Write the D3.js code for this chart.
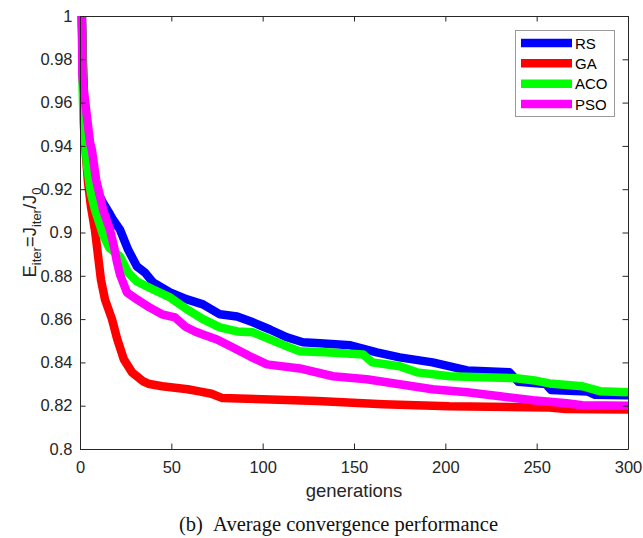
<!DOCTYPE html>
<html>
<head>
<meta charset="utf-8">
<script src="https://cdn.jsdelivr.net/npm/d3@7/dist/d3.min.js"></script>
<style>
  html, body { margin: 0; padding: 0; background: #fff; }
  svg { display: block; }
</style>
</head>
<body>
<svg id="chart" width="643" height="538"></svg>
<script>
// ---- data ----
const seriesNames = ["RS", "GA", "ACO", "PSO"];
const seriesColors = ["#0000ff", "#ff0000", "#00ff00", "#ff00ff"];

const rsGen = [1, 2, 4, 7, 10, 12.6, 15.9, 18, 21.9, 26.3, 31.2, 35.6, 40, 49.3, 58.6, 67.3, 76.6, 86, 94.7, 104, 113.3, 122, 131.4, 148, 162.5, 175, 193, 212, 235, 240, 255, 258, 278, 282, 300];
const rsVal = [1.0, 0.965, 0.945, 0.928, 0.918, 0.9138, 0.9092, 0.906, 0.9013, 0.8921, 0.8843, 0.8815, 0.8769, 0.8723, 0.8691, 0.8668, 0.8622, 0.8612, 0.8585, 0.8552, 0.8516, 0.8493, 0.8488, 0.8479, 0.8446, 0.8423, 0.840, 0.8363, 0.8355, 0.831, 0.8300, 0.8272, 0.8265, 0.8250, 0.8248];

const gaGen = [1, 2, 2.7, 4.4, 6, 8.2, 11.5, 13.7, 17.5, 20.3, 24, 28.5, 34.5, 38, 45, 59, 66, 72, 78, 100, 130, 166, 202, 257, 266, 300];
const gaVal = [1.0, 0.957, 0.9415, 0.923, 0.912, 0.901, 0.878, 0.869, 0.860, 0.851, 0.8414, 0.8354, 0.8313, 0.830, 0.829, 0.8276, 0.8265, 0.8255, 0.8235, 0.8230, 0.8222, 0.8207, 0.8197, 0.8192, 0.8185, 0.8182];

const acoGen = [1, 1.5, 2, 4, 6, 8.2, 12.6, 16, 21.9, 26.3, 31.2, 40, 49.3, 58.6, 67.3, 76.6, 86, 94.7, 104, 113.3, 120.4, 137, 155, 160, 175, 184.5, 202.5, 220.6, 239, 250, 257, 275, 284.6, 300];
const acoVal = [1.0, 0.965, 0.95, 0.93, 0.918, 0.9106, 0.899, 0.893, 0.8889, 0.8815, 0.8774, 0.8737, 0.870, 0.8645, 0.860, 0.8562, 0.8543, 0.8539, 0.8506, 0.8474, 0.8451, 0.8446, 0.8437, 0.840, 0.8382, 0.8354, 0.8336, 0.8331, 0.8327, 0.8315, 0.8303, 0.829, 0.8267, 0.8262];

const psoGen = [1, 1.3, 2.7, 5.5, 6.5, 8.8, 11, 12.6, 16.4, 18.6, 20.3, 21.9, 25.7, 31.2, 37.2, 40, 44.9, 52, 57.5, 63, 67.3, 75, 83.7, 93, 102.4, 120.4, 138.5, 157, 175, 193, 212, 230, 248, 266.5, 275, 300];
const psoVal = [1.0, 0.972, 0.9613, 0.9415, 0.9382, 0.9244, 0.9166, 0.9106, 0.9013, 0.8935, 0.8861, 0.8806, 0.8723, 0.8691, 0.8658, 0.8645, 0.8622, 0.8608, 0.8566, 0.8543, 0.8529, 0.8506, 0.8469, 0.8428, 0.8391, 0.8372, 0.8336, 0.8322, 0.8299, 0.8276, 0.8262, 0.8244, 0.8225, 0.8211, 0.8202, 0.8200];

const xTicks = [0, 50, 100, 150, 200, 250, 300];
const yTicks = [0.8, 0.82, 0.84, 0.86, 0.88, 0.9, 0.92, 0.94, 0.96, 0.98, 1];
const xLabel = "generations";
const caption = "(b)\u00a0\u00a0Average convergence performance";

// ---- layout ----
const L = 80, T = 16, R = 628, B = 449;
const axisColor = "#262626";
const svg = d3.select("#chart");

const x = d3.scaleLinear().domain([0, 300]).range([L, R]);
const y = d3.scaleLinear().domain([0.8, 1]).range([B, T]);

svg.append("rect").attr("x", L).attr("y", T).attr("width", R - L).attr("height", B - T).attr("fill", "#fff");

svg.append("clipPath").attr("id", "clip")
  .append("rect").attr("x", L - 10).attr("y", T).attr("width", R - L + 20).attr("height", B - T);

const series = [
  { name: seriesNames[0], color: seriesColors[0], gen: rsGen, val: rsVal },
  { name: seriesNames[1], color: seriesColors[1], gen: gaGen, val: gaVal },
  { name: seriesNames[2], color: seriesColors[2], gen: acoGen, val: acoVal },
  { name: seriesNames[3], color: seriesColors[3], gen: psoGen, val: psoVal }
];

const line = d3.line().x(d => x(d[0])).y(d => y(d[1]));
const g = svg.append("g").attr("clip-path", "url(#clip)");
series.forEach(s => {
  const pts = s.gen.map((gv, i) => [gv, s.val[i]]);
  g.append("path").datum(pts)
    .attr("d", line)
    .attr("fill", "none")
    .attr("stroke", s.color)
    .attr("stroke-width", 8.5)
    .attr("stroke-linejoin", "round")
    .attr("stroke-linecap", "butt");
});

// ---- axes (MATLAB style, ticks inward, box) ----
const tickLen = 5.5;
const fontTick = "16.5px 'Liberation Sans', Arial, sans-serif";

const xAxisB = d3.axisBottom(x).tickValues(xTicks).tickSizeInner(-tickLen).tickSizeOuter(0).tickPadding(12).tickFormat(d3.format("d"));
const xAxisT = d3.axisTop(x).tickValues(xTicks).tickSizeInner(-tickLen).tickSizeOuter(0).tickFormat("");
const yAxisL = d3.axisLeft(y).tickValues(yTicks).tickSizeInner(-tickLen).tickSizeOuter(0).tickPadding(7.5).tickFormat(d => String(+d.toFixed(2)));
const yAxisR = d3.axisRight(y).tickValues(yTicks).tickSizeInner(-tickLen).tickSizeOuter(0).tickFormat("");

function styleAxis(sel) {
  sel.select(".domain").attr("stroke", axisColor).attr("stroke-width", 1);
  sel.selectAll(".tick line").attr("stroke", axisColor).attr("stroke-width", 1);
  sel.selectAll(".tick text").attr("fill", axisColor).style("font", fontTick);
}
svg.append("g").attr("transform", `translate(0,${B})`).call(xAxisB).call(styleAxis);
svg.append("g").attr("transform", `translate(0,${T})`).call(xAxisT).call(styleAxis);
svg.append("g").attr("transform", `translate(${L},0)`).call(yAxisL).call(styleAxis);
svg.append("g").attr("transform", `translate(${R},0)`).call(yAxisR).call(styleAxis);

// ---- labels ----
svg.append("text")
  .attr("x", (L + R) / 2).attr("y", 497)
  .attr("text-anchor", "middle")
  .attr("fill", axisColor)
  .style("font", "18.5px 'Liberation Sans', Arial, sans-serif")
  .text(xLabel);

const yl = svg.append("text")
  .attr("transform", `translate(36,${(T + B) / 2}) rotate(-90)`)
  .attr("text-anchor", "middle")
  .attr("fill", axisColor)
  .style("font", "18.5px 'Liberation Sans', Arial, sans-serif");
yl.append("tspan").text("E");
yl.append("tspan").attr("dy", 4.5).style("font-size", "13px").text("iter");
yl.append("tspan").attr("dy", -4.5).text("=J");
yl.append("tspan").attr("dy", 4.5).style("font-size", "13px").text("iter");
yl.append("tspan").attr("dy", -4.5).text("/J");
yl.append("tspan").attr("dy", 4.5).style("font-size", "13px").text("0");

svg.append("text")
  .attr("x", 338.5).attr("y", 531)
  .attr("text-anchor", "middle")
  .attr("fill", "#111")
  .style("font", "20.5px 'Liberation Serif', 'Times New Roman', serif")
  .text(caption);

// ---- legend ----
const lg = svg.append("g");
lg.append("rect").attr("x", 515.5).attr("y", 30.5).attr("width", 99).attr("height", 86)
  .attr("fill", "#fff").attr("stroke", "#999").attr("stroke-width", 1);
const legY = d3.scalePoint().domain(seriesNames).range([43, 104]);
series.forEach(s => {
  lg.append("line").attr("x1", 521).attr("x2", 572)
    .attr("y1", legY(s.name)).attr("y2", legY(s.name))
    .attr("stroke", s.color).attr("stroke-width", 8.5);
  lg.append("text").attr("x", 575).attr("y", legY(s.name) + 5.5)
    .attr("fill", "#000")
    .style("font", "15px 'Liberation Sans', Arial, sans-serif")
    .text(s.name);
});
</script>
</body>
</html>
